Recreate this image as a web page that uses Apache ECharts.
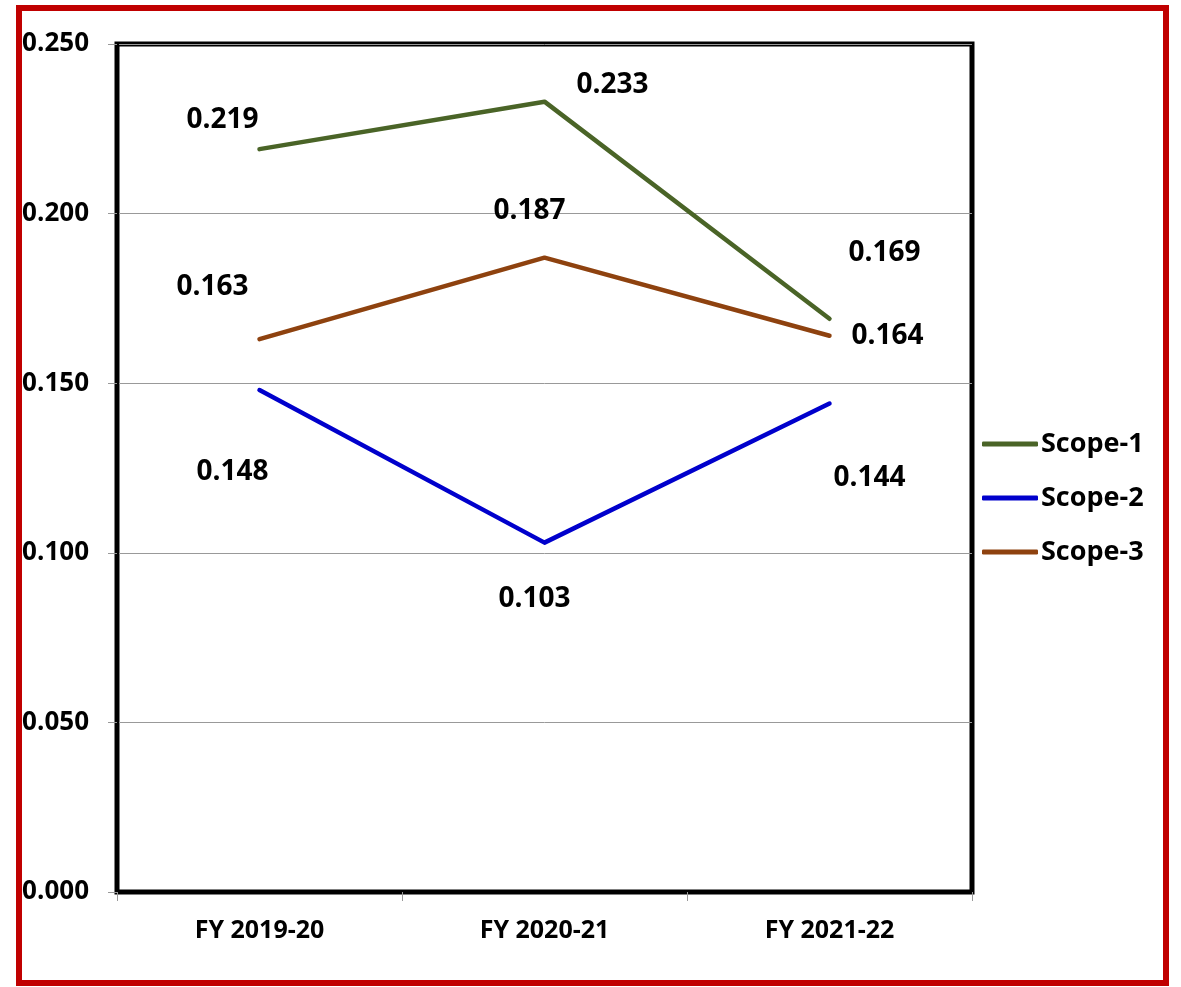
<!DOCTYPE html>
<html>
<head>
    <meta charset="utf-8">
    <title>Scope emissions</title>
    <script src="https://cdn.jsdelivr.net/npm/echarts@6/dist/echarts.min.js"></script>
    <style>
        html, body { margin: 0; padding: 0; background: #fff; }
    </style>
</head>
<body>
    <div id="main" style="width: 1181px;height:987px;"></div>
    <script type="text/javascript">
        // data
        var years = ['FY 2019-20', 'FY 2020-21', 'FY 2021-22'];
        var scope1 = [0.219, 0.233, 0.169];
        var scope2 = [0.148, 0.103, 0.144];
        var scope3 = [0.163, 0.187, 0.164];

        // label nudges (px) so the numbers sit where they are in the picture
        var off1 = [[-37, -29], [68, -17], [55, -66]];
        var off2 = [[-27, 82], [-10, 56], [40, 74]];
        var off3 = [[-47, -52], [-15, -47], [58, 0]];

        var FONT = 'Open Sans';

        function withLabels(values, offsets) {
            return values.map(function (v, i) {
                return { value: v, label: { offset: offsets[i] } };
            });
        }

        function lineSeries(name, color, values, offsets) {
            return {
                name: name,
                type: 'line',
                data: withLabels(values, offsets),
                symbol: 'circle',
                symbolSize: 0,
                lineStyle: { color: color, width: 4.5, cap: 'round', join: 'round' },
                itemStyle: { color: color },
                label: {
                    show: true,
                    position: 'inside',
                    formatter: function (p) { return p.value.toFixed(3); },
                    color: '#000',
                    fontFamily: FONT,
                    fontWeight: 'bold',
                    fontSize: 28
                },
                emphasis: { disabled: true },
                animation: false
            };
        }

        var myChart = echarts.init(document.getElementById('main'));

        var option = {
            backgroundColor: '#fff',
            animation: false,
            graphic: [{
                type: 'rect',
                shape: { x: 19, y: 8, width: 1147, height: 975 },
                style: { fill: 'none', stroke: '#C00000', lineWidth: 6 },
                z: 100
            }],
            grid: {
                left: 117, right: 209, top: 44, bottom: 95,
                show: true,
                borderColor: '#000',
                borderWidth: 5
            },
            legend: {
                orient: 'vertical',
                left: 977,
                top: 423,
                itemWidth: 56,
                itemHeight: 5,
                itemGap: 22,
                icon: 'roundRect',
                textStyle: {
                    fontFamily: FONT, fontWeight: 'bold', fontSize: 27,
                    color: '#000', lineHeight: 32, padding: [0, 0, 0, -2]
                },
                data: ['Scope-1', 'Scope-2', 'Scope-3']
            },
            xAxis: {
                type: 'category',
                data: years,
                boundaryGap: true,
                axisLine: { lineStyle: { color: '#000', width: 4 } },
                axisTick: { show: true, length: 9, lineStyle: { color: '#999', width: 1 } },
                axisLabel: {
                    margin: 26, color: '#000',
                    fontFamily: FONT, fontWeight: 'bold', fontSize: 25
                }
            },
            yAxis: {
                type: 'value',
                min: 0, max: 0.25, interval: 0.05,
                axisLine: { show: true, lineStyle: { color: '#000', width: 4 } },
                axisTick: { show: true, length: 9, lineStyle: { color: '#999', width: 1 } },
                splitLine: { lineStyle: { color: '#999', width: 1 } },
                axisLabel: {
                    margin: 28, color: '#000',
                    fontFamily: FONT, fontWeight: 'bold', fontSize: 26,
                    formatter: function (v) { return v.toFixed(3); }
                }
            },
            series: [
                lineSeries('Scope-1', '#4A6427', scope1, off1),
                lineSeries('Scope-2', '#0000CC', scope2, off2),
                lineSeries('Scope-3', '#8E420F', scope3, off3)
            ]
        };

        myChart.setOption(option);
    </script>
</body>
</html>
